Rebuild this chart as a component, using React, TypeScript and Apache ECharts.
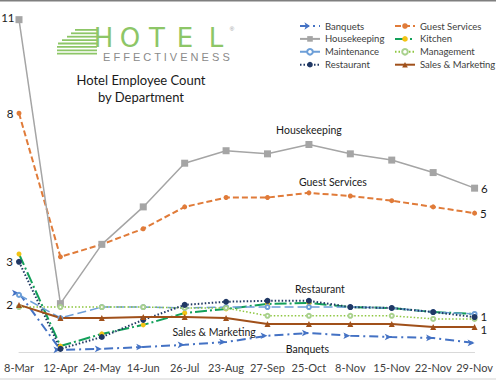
import React, { useEffect, useRef } from "react";
import * as echarts from "echarts";

const categories = ["8-Mar", "12-Apr", "24-May", "14-Jun", "26-Jul", "23-Aug", "27-Sep", "25-Oct", "8-Nov", "15-Nov", "22-Nov", "29-Nov"];
const banquets = [2.24, 0.42, 0.45, 0.51, 0.58, 0.67, 0.87, 0.96, 0.87, 0.83, 0.8, 0.64];
const guestServices = [8.0, 3.4, 3.8, 4.3, 5.0, 5.3, 5.3, 5.45, 5.35, 5.2, 5.0, 4.8];
const housekeeping = [11.0, 1.9, 3.8, 5.0, 6.4, 6.8, 6.7, 7.0, 6.7, 6.5, 6.1, 5.6];
const kitchen = [3.49, 0.54, 0.93, 1.22, 1.6, 1.73, 1.89, 1.92, 1.79, 1.76, 1.63, 1.57];
const maintenance = [2.18, 1.44, 1.79, 1.79, 1.76, 1.79, 1.79, 1.79, 1.79, 1.76, 1.63, 1.57];
const management = [1.79, 1.79, 1.79, 1.79, 1.76, 1.76, 1.51, 1.51, 1.51, 1.51, 1.41, 1.41];
const restaurant = [3.24, 0.45, 0.83, 1.38, 1.86, 1.96, 1.99, 1.99, 1.79, 1.76, 1.63, 1.47];
const salesMarketing = [1.86, 1.44, 1.44, 1.47, 1.47, 1.44, 1.25, 1.25, 1.25, 1.25, 1.15, 1.15];

const Y_MIN = 0.35;
const Y_MAX = 11.63;
const FONT = "Lato, 'Noto Sans', sans-serif";
const TEXT = "#1a1a1a";

type LabelMap = Record<number, any>;

const numLabel = (position: string, offset: number[] = [0, 0]) => ({
  show: true,
  position,
  distance: 3,
  offset,
  fontSize: 11.5,
  fontFamily: FONT,
  color: TEXT,
  formatter: (p: any) => String(Math.round(p.value)),
});

const nameLabel = (position: string, offset: number[], distance: number) => ({
  show: true,
  position,
  offset,
  distance,
  fontSize: 10.5,
  fontFamily: FONT,
  color: TEXT,
  formatter: "{a}",
});

function withLabels(values: number[], labels: LabelMap) {
  return values.map((v, i) => (labels[i] ? { value: v, label: labels[i] } : v));
}

function makeSeries(
  name: string,
  values: number[],
  color: string,
  lineType: any,
  width: number,
  symbol: string,
  symbolSize: any,
  symbolColor: string,
  labels: LabelMap,
  extra: any = {}
) {
  return {
    name,
    type: "line",
    data: withLabels(values, labels),
    symbol,
    symbolSize,
    showAllSymbol: true,
    lineStyle: { color, width, type: lineType },
    itemStyle: { color: symbolColor, borderWidth: 0 },
    label: { show: false },
    emphasis: { disabled: true },
    ...extra,
  };
}

function buildingLogo() {
  const els: any[] = [];
  const starts = [75, 71, 67, 62, 58, 57, 57, 57];
  for (let i = 0; i < 8; i++) {
    els.push({
      type: "rect",
      shape: { x: starts[i], y: 29 + i * 3.4, width: 97 - starts[i], height: 1.8 },
      style: { fill: "#8dc667" },
      silent: true,
    });
  }
  const hotel = [
    ["H", 103.5],
    ["O", 130],
    ["T", 157],
    ["E", 185],
    ["L", 216],
  ];
  hotel.forEach(([ch, x]) =>
    els.push({
      type: "text",
      x: x as number,
      y: 38,
      style: {
        text: ch as string,
        fontSize: 26,
        lineHeight: 19,
        fontFamily: "'DejaVu Sans', sans-serif",
        fill: "#8dc667",
        align: "center",
        verticalAlign: "middle",
      },
      silent: true,
    })
  );
  els.push({
    type: "text",
    x: 103,
    y: 56.5,
    style: {
      text: "E F F E C T I V E N E S S",
      fontSize: 11,
      lineHeight: 10,
      fontFamily: "'Liberation Sans', sans-serif",
      fill: "#8a8a8a",
      align: "left",
      verticalAlign: "middle",
    },
    silent: true,
  });
  els.push({
    type: "text",
    x: 232,
    y: 29,
    style: { text: "®", fontSize: 6, fill: "#999", align: "center", verticalAlign: "middle" },
    silent: true,
  });
  return els;
}

export default function App() {
  const ref = useRef<HTMLDivElement>(null);
  useEffect(() => {
    if (!ref.current) return;
    const chart = echarts.init(ref.current, undefined, { renderer: "svg" });
    const legendText = { fontSize: 9.5, fontFamily: FONT, color: "#404040", lineHeight: 11 };
    const legendBase = {
      orient: "vertical",
      top: 15.5,
      itemWidth: 20,
      itemHeight: 7,
      itemGap: 1.9,
      textStyle: legendText,
      selectedMode: false,
    };
    const option: any = {
      animation: false,
      backgroundColor: "#ffffff",
      grid: { left: 19, right: 20, top: 0, bottom: 28, containLabel: false },
      xAxis: {
        type: "category",
        data: categories,
        boundaryGap: false,
        axisLine: { show: true, lineStyle: { color: "#d9d9d9", width: 1 } },
        axisTick: { show: false },
        axisLabel: { fontSize: 11, fontFamily: FONT, color: "#404040", margin: 10, interval: 0 },
        splitLine: { show: false },
      },
      yAxis: {
        type: "value",
        min: Y_MIN,
        max: Y_MAX,
        show: false,
        splitLine: { show: false },
      },
      legend: [
        { ...legendBase, left: 294, data: ["Banquets", "Housekeeping", "Maintenance", "Restaurant"] },
        { ...legendBase, left: 389, data: ["Guest Services", "Kitchen", "Management", "Sales & Marketing"] },
      ],
      graphic: [
        {
          type: "line",
          shape: { x1: 0, y1: 0.5, x2: 496, y2: 0.5 },
          style: { stroke: "#7f7f7f", lineWidth: 2 },
          silent: true,
        },
        {
          type: "line",
          shape: { x1: 0, y1: 379, x2: 496, y2: 379 },
          style: { stroke: "#e0e0e0", lineWidth: 1.5 },
          silent: true,
        },
        ...buildingLogo(),
        {
          type: "text",
          x: 141,
          y: 72,
          style: {
            text: "Hotel Employee Count\nby Department",
            fontSize: 13,
            lineHeight: 16.5,
            fontFamily: FONT,
            fill: TEXT,
            align: "center",
            verticalAlign: "top",
          },
          silent: true,
        },
      ],
      series: [
        makeSeries("Banquets", banquets, "#4472c4", [9, 4, 2, 4], 2, "arrow", [5, 7], "#4472c4", {
          7: nameLabel("bottom", [2, 0], 7),
        }, { symbolRotate: -90 }),
        makeSeries("Guest Services", guestServices, "#e07b39", [6, 3], 2, "circle", 5, "#e07b39", {
          0: numLabel("left"),
          7: nameLabel("top", [24, 0], 3),
          11: numLabel("right"),
        }),
        makeSeries("Housekeeping", housekeeping, "#a5a5a5", "solid", 1.5, "rect", 7, "#a5a5a5", {
          0: numLabel("left", [2, -2]),
          7: nameLabel("top", [0, 0], 5),
          11: numLabel("right"),
        }),
        makeSeries("Kitchen", kitchen, "#13a05a", [12, 3, 2, 3], 2, "circle", 5, "#f2c314", {}),
        makeSeries("Maintenance", maintenance, "#6d9fd8", [9, 4], 1.5, "emptyCircle", 4, "#6d9fd8", {}),
        makeSeries("Management", management, "#8dc63f", [1.5, 2], 1.5, "emptyCircle", 4, "#a9d18e", {}),
        makeSeries("Restaurant", restaurant, "#203864", [1.5, 2], 2, "circle", 6, "#203864", {
          0: numLabel("left"),
          7: nameLabel("top", [11, 0], 3),
          11: numLabel("right", [0, -1]),
        }),
        makeSeries("Sales & Marketing", salesMarketing, "#a0501a", "solid", 2, "triangle", 6, "#a0501a", {
          0: numLabel("left"),
          5: nameLabel("bottom", [-12, 0], 6),
          11: numLabel("right", [0, 2]),
        }),
      ],
    };
    chart.setOption(option);
    return () => chart.dispose();
  }, []);
  return (
    <div
      ref={ref}
      style={{ position: "fixed", left: 0, top: 0, width: 496, height: 380, background: "#fff" }}
    />
  );
}
